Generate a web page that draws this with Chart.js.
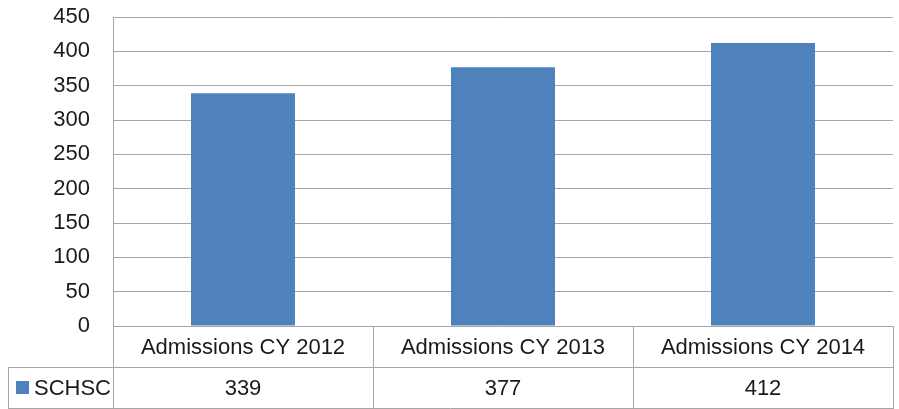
<!DOCTYPE html>
<html>
<head>
<meta charset="utf-8">
<script src="https://cdn.jsdelivr.net/npm/chart.js@4"></script>
<style>
  html, body { margin: 0; padding: 0; background: #fff; }
  #wrap { width: 899px; height: 409px; position: relative; }
</style>
</head>
<body>
<div id="wrap"><canvas id="c" width="899" height="409"></canvas></div>
<script>
const categories = ["Admissions CY 2012", "Admissions CY 2013", "Admissions CY 2014"];
const seriesName = "SCHSC";
const seriesValues = [339, 377, 412];
const yTicks = [0, 50, 100, 150, 200, 250, 300, 350, 400, 450];

const FONT = "'Liberation Sans', Arial, sans-serif";
const TEXT = "#1a1a1a";
const GRID = "#a6a6a6";
const BAR = "#4f81bd";

const dataTablePlugin = {
  id: "dataTable",
  afterDraw(chart) {
    const ctx = chart.ctx;
    const x = chart.scales.x;
    const ca = chart.chartArea;
    const top = ca.bottom;
    const rowH = 41;
    const mid = top + rowH;
    const bot = top + 2 * rowH;
    const legendLeft = 8;
    ctx.save();
    ctx.strokeStyle = GRID;
    ctx.lineWidth = 1;
    const hl = (x1, x2, y) => { ctx.beginPath(); ctx.moveTo(x1, Math.round(y) + 0.5); ctx.lineTo(x2, Math.round(y) + 0.5); ctx.stroke(); };
    const vl = (xx, y1, y2) => { ctx.beginPath(); ctx.moveTo(Math.round(xx) + 0.5, y1); ctx.lineTo(Math.round(xx) + 0.5, y2); ctx.stroke(); };
    hl(legendLeft, ca.right, mid);
    hl(legendLeft, ca.right, bot);
    vl(legendLeft, mid, bot + 1);
    const n = categories.length;
    for (let i = 0; i <= n; i++) {
      let b;
      if (i === 0) b = ca.left;
      else if (i === n) b = ca.right;
      else b = (x.getPixelForValue(i - 1) + x.getPixelForValue(i)) / 2;
      vl(b, top, bot + 1);
    }
    ctx.fillStyle = TEXT;
    ctx.font = "22px " + FONT;
    ctx.textAlign = "center";
    ctx.textBaseline = "middle";
    for (let i = 0; i < n; i++) {
      const cx = x.getPixelForValue(i);
      ctx.fillText(categories[i], cx, top + rowH / 2 + 1);
      ctx.fillText(String(seriesValues[i]), cx, mid + rowH / 2 + 1);
    }
    ctx.fillStyle = BAR;
    ctx.fillRect(16, mid + 14, 13, 13);
    ctx.fillStyle = TEXT;
    ctx.textAlign = "left";
    ctx.fillText(seriesName, 34, mid + rowH / 2 + 1);
    ctx.restore();
  }
};

new Chart(document.getElementById("c"), {
  type: "bar",
  data: {
    labels: categories,
    datasets: [{
      label: seriesName,
      data: seriesValues,
      backgroundColor: BAR,
      borderWidth: 0,
      barPercentage: 0.4,
      categoryPercentage: 1.0
    }]
  },
  options: {
    responsive: false,
    animation: false,
    layout: { padding: { top: 0, right: 6, bottom: 83, left: 0 } },
    plugins: { legend: { display: false }, tooltip: { enabled: false } },
    scales: {
      x: {
        display: true,
        grid: { display: false, drawTicks: false },
        border: { display: false },
        ticks: { display: false }
      },
      y: {
        min: 0,
        max: 450,
        afterFit(scale) { scale.width = 113; scale.paddingTop = 17; scale.paddingBottom = 0; },
        afterBuildTicks(scale) { scale.ticks = yTicks.map(v => ({ value: v })); },
        grid: { color: GRID, lineWidth: 1, drawTicks: false },
        border: { display: true, color: GRID, width: 1 },
        ticks: {
          color: TEXT,
          font: { size: 22, family: FONT },
          padding: 23
        }
      }
    }
  },
  plugins: [dataTablePlugin]
});
</script>
</body>
</html>
